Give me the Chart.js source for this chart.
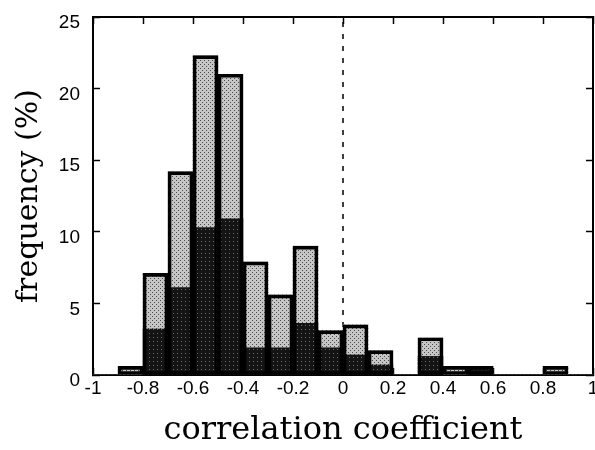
<!DOCTYPE html>
<html>
<head>
<meta charset="utf-8">
<script src="https://cdn.jsdelivr.net/npm/chart.js@4.4.0/dist/chart.umd.min.js"></script>
<style>
  body { margin: 0; background: #fff; }
  #chart { display: block; }
</style>
</head>
<body>
<canvas id="chart" width="595" height="450"></canvas>
<script>
// histogram bins, width 0.1
const binCenters = [-0.95, -0.85, -0.75, -0.65, -0.55, -0.45, -0.35, -0.25, -0.15, -0.05,
                    0.05, 0.15, 0.25, 0.35, 0.45, 0.55, 0.65, 0.75, 0.85, 0.95];
// whole bar height (%)
const totalPct = [0, 0.6, 7.1, 14.2, 22.3, 21.0, 7.9, 5.6, 9.0, 3.1,
                  3.5, 1.7, 0, 2.6, 0.6, 0.6, 0, 0, 0.6, 0];
// dark lower part (%)
const darkPct  = [0, 0, 3.2, 6.1, 10.3, 10.9, 1.9, 1.9, 3.6, 1.9,
                  1.4, 0.7, 0, 1.3, 0, 0.6, 0, 0, 0, 0];
const xTickLabels = ['-1', '-0.8', '-0.6', '-0.4', '-0.2', '0', '0.2', '0.4', '0.6', '0.8', '1'];
const yTickLabels = ['0', '5', '10', '15', '20', '25'];
const zeroLineX = 0;

const lightPct = totalPct.map((t, i) => Math.round((t - darkPct[i]) * 10) / 10);

// small dotted fills to mimic the printed screen tones
function stipple(base, dot, dots) {
  const c = document.createElement('canvas');
  c.width = 4;
  c.height = 4;
  const g = c.getContext('2d');
  g.fillStyle = base;
  g.fillRect(0, 0, 4, 4);
  g.fillStyle = dot;
  dots.forEach(([x, y]) => g.fillRect(x, y, 1, 1));
  return g.createPattern(c, 'repeat');
}
const lightFill = stipple('#c6c6c6', '#4a4a4a', [[0, 0], [2, 2]]);
const darkFill = stipple('#141414', '#6a6a6a', [[1, 1]]);

const pts = vals => binCenters.map((x, i) => ({ x: x, y: vals[i] }));

const tickFont = { family: 'Liberation Sans', size: 19 };

function frameGrid() {
  return {
    offset: false,
    drawOnChartArea: false,
    drawTicks: true,
    tickLength: -7,
    tickWidth: 1.5,
    tickColor: '#000',
    color: '#000'
  };
}
const frameBorder = { display: true, color: '#000', width: 2 };

// fixed axis sizes, no extra room for edge labels
function fixSize(w, h) {
  return s => {
    if (w !== null) s.width = w;
    if (h !== null) s.height = h;
    s.paddingLeft = 0;
    s.paddingRight = 0;
    s.paddingTop = 0;
    s.paddingBottom = 0;
  };
}

new Chart(document.getElementById('chart'), {
  type: 'bar',
  data: {
    datasets: [
      {
        // outline of each whole bar
        data: pts(totalPct),
        yAxisID: 'yr',
        backgroundColor: 'rgba(0,0,0,0)',
        borderColor: '#000',
        borderWidth: 3,
        borderSkipped: false,
        barPercentage: 1,
        categoryPercentage: 1
      },
      {
        data: pts(darkPct),
        yAxisID: 'y',
        backgroundColor: darkFill,
        borderWidth: 0,
        barPercentage: 1,
        categoryPercentage: 1
      },
      {
        data: pts(lightPct),
        yAxisID: 'y',
        backgroundColor: lightFill,
        borderWidth: 0,
        barPercentage: 1,
        categoryPercentage: 1
      },
      {
        type: 'line',
        data: [{ x: zeroLineX, y: 0 }, { x: zeroLineX, y: 25 }],
        yAxisID: 'yr',
        borderColor: '#000',
        borderWidth: 1.5,
        borderDash: [5, 7],
        pointRadius: 0,
        fill: false
      }
    ]
  },
  options: {
    responsive: false,
    animation: false,
    layout: { autoPadding: false, padding: { top: 17, right: 2, left: 0, bottom: 0 } },
    plugins: {
      legend: { display: false },
      tooltip: { enabled: false }
    },
    scales: {
      x: {
        type: 'linear',
        stacked: true,
        offset: false,
        min: -1,
        max: 1,
        grid: frameGrid(),
        border: frameBorder,
        ticks: {
          stepSize: 0.2,
          autoSkip: false,
          maxRotation: 0,
          padding: 9,
          color: '#000',
          font: tickFont,
          callback: (v, i) => xTickLabels[i]
        },
        title: {
          display: true,
          text: 'correlation coefficient',
          color: '#000',
          font: { family: 'DejaVu Serif', size: 32, lineHeight: 1 },
          padding: { top: 0, bottom: 3 }
        },
        afterFit: fixSize(null, 75)
      },
      x2: {
        type: 'linear',
        position: 'top',
        offset: false,
        min: -1,
        max: 1,
        grid: frameGrid(),
        border: frameBorder,
        ticks: { stepSize: 0.2, display: false },
        afterFit: fixSize(null, 0)
      },
      y: {
        stacked: true,
        min: 0,
        max: 25,
        grid: frameGrid(),
        border: frameBorder,
        ticks: {
          stepSize: 5,
          padding: 20,
          labelOffset: 6,
          color: '#000',
          font: tickFont,
          callback: (v, i) => yTickLabels[i]
        },
        title: {
          display: true,
          text: 'frequency (%)',
          color: '#000',
          font: { family: 'DejaVu Serif', size: 30, lineHeight: 1 },
          padding: { top: 14, bottom: 0 }
        },
        afterFit: fixSize(93, null)
      },
      yr: {
        position: 'right',
        min: 0,
        max: 25,
        grid: frameGrid(),
        border: frameBorder,
        ticks: { stepSize: 5, display: false },
        afterFit: fixSize(0, null)
      }
    }
  }
});
</script>
</body>
</html>
